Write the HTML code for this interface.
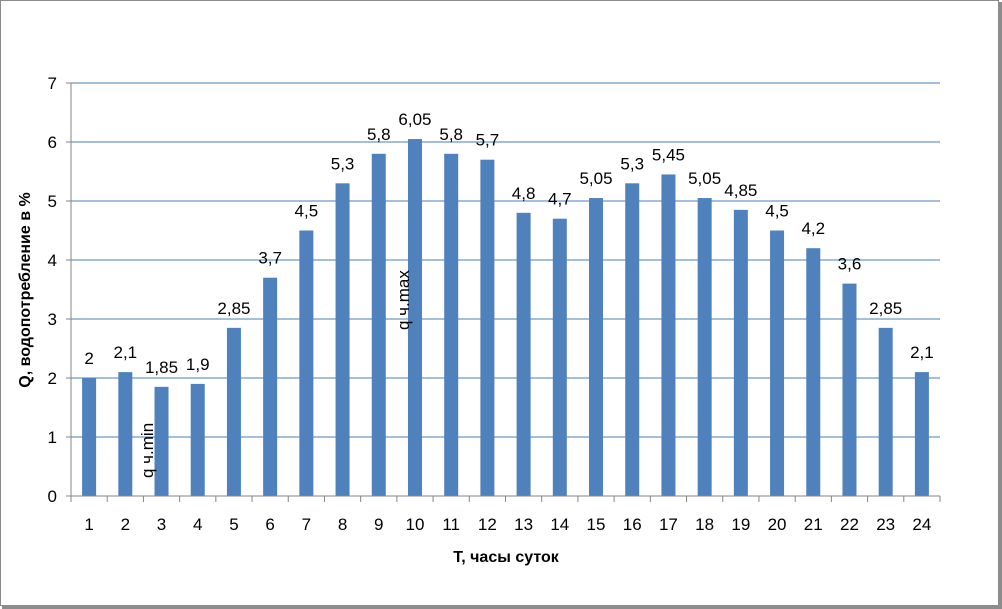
<!DOCTYPE html>
<html><head><meta charset="utf-8"><style>
body{margin:0;background:#fff;}
svg{display:block;font-family:"Liberation Sans",sans-serif;}
</style></head><body>
<svg id="chart" width="1002" height="609">
<rect x="0.5" y="0.5" width="998" height="605" fill="#fff" stroke="#8c8c8c" stroke-width="1"/>
<rect x="999" y="2" width="3" height="607" fill="#8c8c8c"/>
<rect x="2" y="606" width="1000" height="3" fill="#8c8c8c"/>
<g id="grid"></g><g id="bars"></g><g id="labels"></g><g id="axes"></g>
<text x="0" y="0" transform="translate(30,290) rotate(-90)" text-anchor="middle" font-size="16" font-weight="bold">Q, водопотребление в %</text>
<text x="506" y="562" text-anchor="middle" font-size="16" font-weight="bold">T, часы суток</text>
<text transform="translate(153,478) rotate(-90)" font-size="17">q ч.min</text>
<text transform="translate(409,330) rotate(-90)" font-size="17">q ч.max</text>
</svg>
<script>
const categories=["1","2","3","4","5","6","7","8","9","10","11","12","13","14","15","16","17","18","19","20","21","22","23","24"];
const values=[2,2.1,1.85,1.9,2.85,3.7,4.5,5.3,5.8,6.05,5.8,5.7,4.8,4.7,5.05,5.3,5.45,5.05,4.85,4.5,4.2,3.6,2.85,2.1];
const yTicks=[0,1,2,3,4,5,6,7];
const NS="http://www.w3.org/2000/svg";
const X0=71,X1=940,Y0=496,YT=83,YMAX=7;
const band=(X1-X0)/categories.length;
const xc=i=>X0+band*(i+0.5);
const y=v=>Y0-(Y0-YT)*v/YMAX;
const fmt=v=>String(v).replace('.',',');
function mk(tag,attrs,parent,text){const e=document.createElementNS(NS,tag);for(const k in attrs)e.setAttribute(k,attrs[k]);if(text!==undefined)e.textContent=text;document.getElementById(parent).appendChild(e);return e;}
yTicks.forEach(t=>{
  if(t>0){const g=mk('line',{x1:X0,x2:X1,y1:y(t),y2:y(t),stroke:'#4a7ebb','stroke-width':1},'grid');
  
  }
  const l=mk('text',{x:X0-14,y:y(t)+6,'text-anchor':'end','font-size':17},'axes',String(t));
  
  
});
const ax=mk('line',{x1:X0,x2:X1,y1:Y0,y2:Y0,stroke:'#868686','stroke-width':1},'axes');


const ay=mk('line',{x1:X0,x2:X0,y1:YT,y2:Y0,stroke:'#868686','stroke-width':1},'axes');


yTicks.forEach(t=>{mk('line',{x1:X0-5,x2:X0,y1:y(t),y2:y(t),stroke:'#868686'},'axes');});
for(let i=0;i<=categories.length;i++){mk('line',{x1:X0+band*i,x2:X0+band*i,y1:Y0,y2:Y0+6,stroke:'#868686'},'axes');}
categories.forEach((c,i)=>{
  const v=values[i];
  const b=mk('rect',{x:xc(i)-7,y:y(v),width:14,height:Y0-y(v),fill:'#4f81bd'},'bars');
  
  
  const t=mk('text',{x:xc(i),y:y(v)-14,'text-anchor':'middle','font-size':17},'labels',fmt(v));
  
  
  const xl=mk('text',{x:xc(i),y:Y0+34,'text-anchor':'middle','font-size':17},'axes',c);
  
  
});
</script>
</body></html>
